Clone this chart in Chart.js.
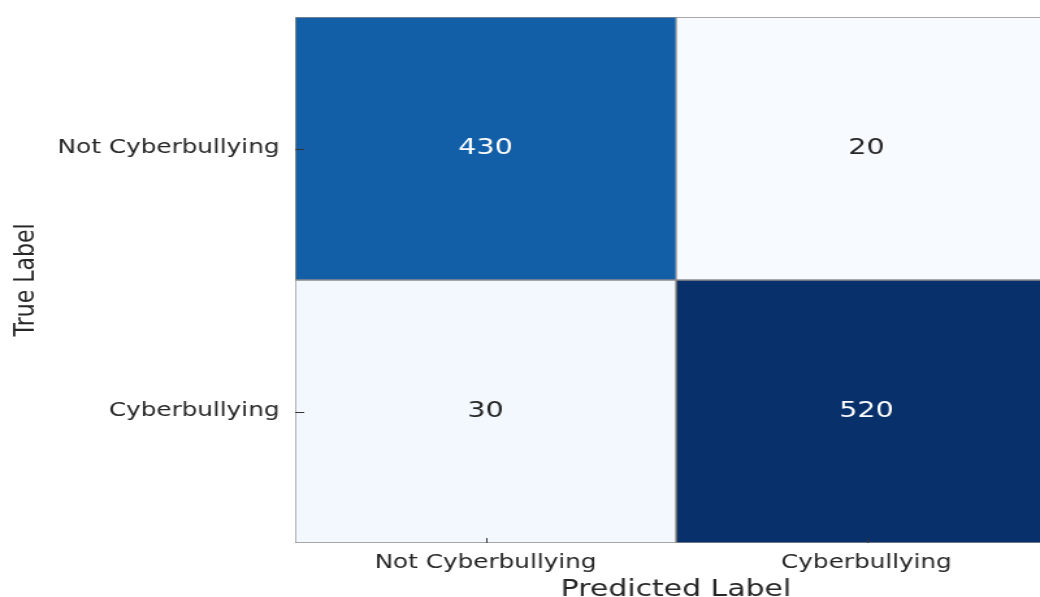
<!DOCTYPE html>
<html>
<head>
<meta charset="utf-8">
<script src="https://cdn.jsdelivr.net/npm/chart.js@4"></script>
<style>
  html, body { margin: 0; padding: 0; background: #fff; overflow: hidden; }
  /* the reference image is stretched sideways, so the whole chart is too */
  #wrap {
    width: 815px;
    height: 597px;
    transform: scaleX(1.3);
    transform-origin: 0 0;
  }
</style>
</head>
<body>
<div id="wrap"><canvas id="cm"></canvas></div>
<script>
// confusion matrix data
const predictedLabels = ["Not Cyberbullying", "Cyberbullying"];
const trueLabels = ["Not Cyberbullying", "Cyberbullying"];
const rowNotCyberbullying = [430, 20];
const rowCyberbullying = [30, 520];
const matrixRows = [rowNotCyberbullying, rowCyberbullying];

// matplotlib "Blues" stops
const bluesStops = ["#f7fbff", "#deebf7", "#c6dbef", "#9ecae1", "#6baed6",
                    "#4292c6", "#2171b5", "#08519c", "#08306b"];

function hexToRgb(h) {
  return [parseInt(h.slice(1, 3), 16), parseInt(h.slice(3, 5), 16), parseInt(h.slice(5, 7), 16)];
}

function blues(t) {
  t = Math.max(0, Math.min(1, t));
  const pos = t * (bluesStops.length - 1);
  const i = Math.min(Math.floor(pos), bluesStops.length - 2);
  const f = pos - i;
  const a = hexToRgb(bluesStops[i]);
  const b = hexToRgb(bluesStops[i + 1]);
  const c = a.map((v, k) => Math.round(v + (b[k] - v) * f));
  return `rgb(${c[0]},${c[1]},${c[2]})`;
}

const allValues = matrixRows.flat();
const vMin = Math.min(...allValues);
const vMax = Math.max(...allValues);
const mid = (vMin + vMax) / 2;

// one floating-bar dataset per true label row, top row first
const datasets = matrixRows.map((row, r) => {
  const lo = trueLabels.length - 1 - r;
  return {
    label: trueLabels[r],
    data: row.map(() => [lo, lo + 1]),
    values: row,
    backgroundColor: row.map(v => blues((v - vMin) / (vMax - vMin))),
    borderColor: "#8c8c8c",
    borderWidth: 1,
    borderSkipped: false,
    grouped: false,
    barPercentage: 1,
    categoryPercentage: 1
  };
});

const cellText = {
  id: "cellText",
  afterDatasetsDraw(chart) {
    const ctx = chart.ctx;
    ctx.save();
    ctx.font = "22px 'DejaVu Sans'";
    ctx.textAlign = "center";
    ctx.textBaseline = "middle";
    chart.data.datasets.forEach((ds, i) => {
      chart.getDatasetMeta(i).data.forEach((bar, j) => {
        const v = ds.values[j];
        ctx.fillStyle = v > mid ? "#ffffff" : "#262626";
        ctx.fillText(String(v), bar.x, (bar.y + bar.base) / 2);
      });
    });

    // small inward tick marks like the reference
    const xs = chart.scales.x;
    const ys = chart.scales.y;
    const area = chart.chartArea;
    ctx.strokeStyle = "#333";
    ctx.lineWidth = 1;
    predictedLabels.forEach((_, i) => {
      const px = Math.round(xs.getPixelForValue(i)) + 0.5;
      ctx.beginPath();
      ctx.moveTo(px, area.bottom);
      ctx.lineTo(px, area.bottom - 5);
      ctx.stroke();
    });
    ys.ticks.forEach(t => {
      const py = Math.round(ys.getPixelForValue(t.value)) + 0.5;
      ctx.beginPath();
      ctx.moveTo(area.left, py);
      ctx.lineTo(area.left + 7, py);
      ctx.stroke();
    });
    ctx.restore();
  }
};

new Chart(document.getElementById("cm"), {
  type: "bar",
  data: {
    labels: predictedLabels,
    datasets: datasets
  },
  options: {
    responsive: true,
    maintainAspectRatio: false,
    animation: false,
    layout: { padding: { top: 17, right: 2, left: 0, bottom: 0 } },
    plugins: {
      legend: { display: false },
      tooltip: { enabled: false }
    },
    scales: {
      x: {
        grid: { display: false, drawTicks: false },
        border: { display: false },
        ticks: {
          color: "#262626",
          padding: 9,
          font: { family: "DejaVu Sans", size: 19 }
        },
        title: {
          display: true,
          text: "Predicted Label",
          color: "#262626",
          padding: { top: 0, bottom: 0 },
          font: { family: "DejaVu Sans", size: 23, lineHeight: 0.6 }
        },
        afterFit(scale) {
          scale.height = 54;
          scale.paddingLeft = 0;
          scale.paddingRight = 0;
        }
      },
      y: {
        min: 0,
        max: trueLabels.length,
        grid: { display: false, drawTicks: false },
        border: { display: false },
        afterBuildTicks(scale) {
          scale.ticks = trueLabels.map((_, i) => ({ value: trueLabels.length - 1 - i + 0.5 }));
        },
        ticks: {
          color: "#262626",
          padding: 12,
          font: { family: "DejaVu Sans", size: 19 },
          callback: v => trueLabels[trueLabels.length - 1 - Math.floor(v)]
        },
        title: {
          display: true,
          text: "True Label",
          color: "#262626",
          padding: { top: 7, bottom: 0 },
          font: { family: "DejaVu Sans", size: 22 }
        },
        afterFit(scale) {
          scale.width = 227;
          scale.paddingTop = 0;
          scale.paddingBottom = 0;
        }
      }
    }
  },
  plugins: [cellText]
});
</script>
</body>
</html>
